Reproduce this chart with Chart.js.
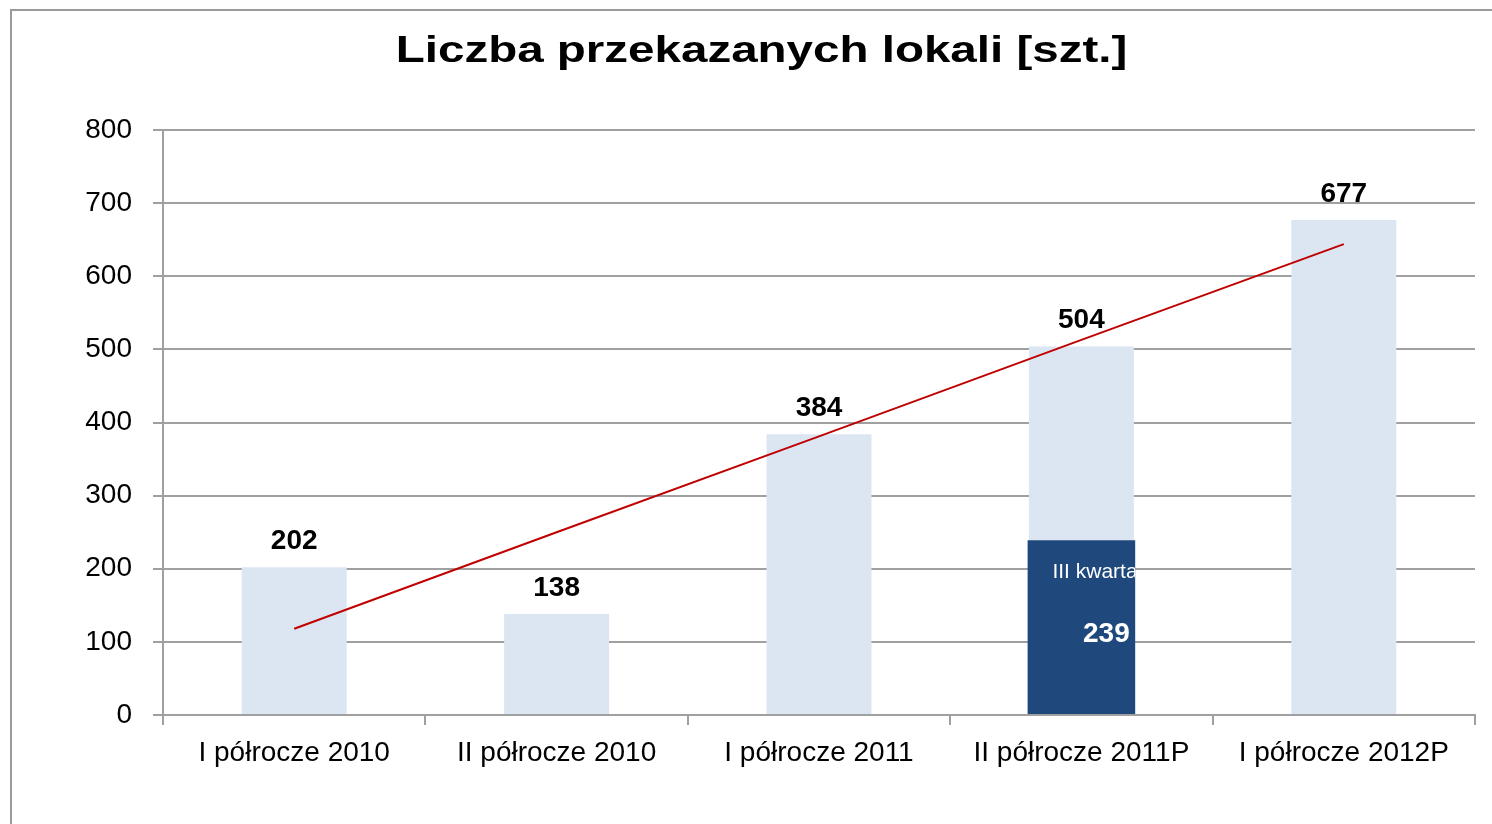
<!DOCTYPE html>
<html lang="pl">
<head>
<meta charset="UTF-8">
<title>Liczba przekazanych lokali</title>
<script src="https://cdn.jsdelivr.net/npm/chart.js@4.4.1/dist/chart.umd.min.js"></script>
<style>
    html, body { margin: 0; padding: 0; background: #fff; overflow: hidden; }
    #wrap { position: relative; width: 1492px; height: 824px; overflow: hidden; }
    #ramka { position: absolute; left: 10px; top: 9px; width: 1600px; height: 900px; border: 2px solid #9a9a9a; }
    #chart-lokale { position: absolute; left: 0; top: 0; }
</style>
</head>
<body>
<div id="wrap">
    <div id="ramka"></div>
    <canvas id="chart-lokale" width="1492" height="824"></canvas>
</div>
<script>
const tytul = 'Liczba przekazanych lokali [szt.]';
const kategorie = ['I półrocze 2010', 'II półrocze 2010', 'I półrocze 2011', 'II półrocze 2011P', 'I półrocze 2012P'];
const lokale = [202, 138, 384, 504, 677];
const kwartal3 = [null, null, null, 239, null];
const kwartal3Etykieta = 'III kwartał';
const trend = [118, 250, 381, 513, 644];
const osYMin = 0;
const osYMax = 800;
const osYKrok = 100;

const szary = '#a0a0a0';
const fontArial = '"Liberation Sans", Arial, sans-serif';

// tytul rozciagniety w poziomie jak w oryginale
const tytulPlugin = {
    id: 'tytulPlugin',
    afterDraw: (chart) => {
        const ctx = chart.ctx;
        ctx.save();
        ctx.font = `bold 36px ${fontArial}`;
        ctx.fillStyle = '#000';
        ctx.textAlign = 'center';
        ctx.textBaseline = 'middle';
        ctx.translate(761.5, 52);
        ctx.scale(1.32, 1);
        ctx.fillText(tytul, 0, 0);
        ctx.restore();
    }
};

const etykietyPlugin = {
    id: 'etykietyPlugin',
    afterDatasetsDraw: (chart) => {
        const ctx = chart.ctx;
        ctx.save();
        // wartosci nad jasnymi slupkami
        const meta0 = chart.getDatasetMeta(0);
        ctx.font = `bold 28px ${fontArial}`;
        ctx.fillStyle = '#000';
        ctx.textAlign = 'center';
        ctx.textBaseline = 'middle';
        meta0.data.forEach((bar, i) => {
            ctx.fillText(String(lokale[i]), bar.x, bar.y - 26);
        });
        // ciemny slupek - III kwartal
        const meta1 = chart.getDatasetMeta(1);
        meta1.data.forEach((bar, i) => {
            if (kwartal3[i] == null) return;
            const left = bar.x - bar.width / 2;
            ctx.save();
            ctx.beginPath();
            ctx.rect(left, bar.y, bar.width, bar.base - bar.y);
            ctx.clip();
            ctx.fillStyle = '#fff';
            ctx.textAlign = 'left';
            ctx.font = `21px ${fontArial}`;
            ctx.fillText(kwartal3Etykieta, bar.x - 29, bar.y + 32);
            ctx.textAlign = 'center';
            ctx.font = `bold 28px ${fontArial}`;
            ctx.fillText(String(kwartal3[i]), bar.x + 25, bar.y + 94);
            ctx.restore();
        });
        ctx.restore();
    }
};

const renderChartLokale = () => {
    const ctx = document.getElementById('chart-lokale').getContext('2d');
    new Chart(ctx, {
        type: 'bar',
        data: {
            labels: kategorie,
            datasets: [
                {
                    label: 'Liczba lokali',
                    data: lokale,
                    backgroundColor: '#dce6f2',
                    grouped: false,
                    categoryPercentage: 1,
                    barPercentage: 0.4,
                    order: 2
                },
                {
                    label: kwartal3Etykieta,
                    data: kwartal3,
                    backgroundColor: '#1f497d',
                    grouped: false,
                    categoryPercentage: 1,
                    barPercentage: 0.41,
                    order: 1
                },
                {
                    type: 'line',
                    label: 'Trend',
                    data: trend,
                    borderColor: '#c00000',
                    borderWidth: 2,
                    pointRadius: 0,
                    fill: false,
                    order: 0
                }
            ]
        },
        options: {
            responsive: false,
            animation: false,
            layout: {
                padding: { top: 130, left: 0, right: 17, bottom: 0 }
            },
            plugins: {
                legend: { display: false },
                title: { display: false },
                tooltip: { enabled: false }
            },
            scales: {
                x: {
                    afterFit: (scale) => { scale.height = 109; },
                    grid: {
                        drawOnChartArea: false,
                        drawTicks: true,
                        tickLength: 10,
                        color: szary,
                        lineWidth: 2
                    },
                    border: { display: true, color: szary, width: 2 },
                    ticks: {
                        color: '#000',
                        padding: 11,
                        maxRotation: 0,
                        font: { family: fontArial, size: 28 }
                    }
                },
                y: {
                    min: osYMin,
                    max: osYMax,
                    afterFit: (scale) => { scale.width = 163; },
                    grid: {
                        color: szary,
                        lineWidth: 2,
                        tickLength: 10
                    },
                    border: { display: true, color: szary, width: 2 },
                    ticks: {
                        stepSize: osYKrok,
                        color: '#000',
                        padding: 21,
                        font: { family: fontArial, size: 28 }
                    }
                }
            }
        },
        plugins: [tytulPlugin, etykietyPlugin]
    });
}

document.addEventListener('DOMContentLoaded', () => {
    renderChartLokale();
});
</script>
</body>
</html>
